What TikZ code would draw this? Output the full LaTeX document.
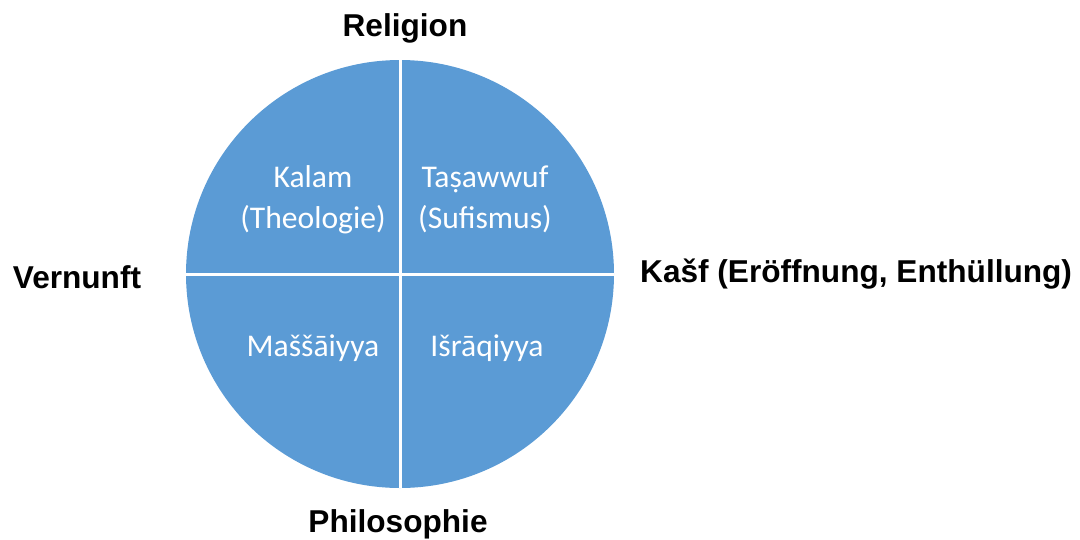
\documentclass[tikz,border=0pt]{standalone}
\usepackage{fontspec}
\setmainfont{Liberation Sans}
\newfontfamily\calfont{Carlito}
\definecolor{disc}{HTML}{5B9BD5}
\tikzset{
  axislabel/.style={font=\fontsize{31.6}{38}\selectfont\bfseries, text=black, inner sep=0pt, anchor=base},
  quadlabel/.style={font=\calfont\fontsize{31.6}{41}\selectfont, text=white, inner sep=0pt, align=center},
  divider/.style={draw=white, line width=3pt}
}
\begin{document}
\begin{tikzpicture}[x=1pt,y=-1pt]
\useasboundingbox (0,0) rectangle (1080,539);
\node[circle, fill=disc, minimum size=428pt, inner sep=0pt] (disc) at (400,274) {};
\draw[divider] (disc.north) -- (disc.south);
\draw[divider] (disc.west) -- (disc.east);
\node[quadlabel, anchor=base] (kalam) at (313,228) {Kalam\\(Theologie)};
\node[quadlabel, anchor=base] (tasawwuf) at (485,228) {Taṣawwuf\\(Sufismus)};
\node[quadlabel, anchor=base] (massa) at (313,356) {Maššāiyya};
\node[quadlabel, anchor=base] (ishraq) at (487,356) {Išrāqiyya};
\node[axislabel] (religion) at (405,36) {Religion};
\node[axislabel] (vernunft) at (77,288) {Vernunft};
\node[axislabel, anchor=base west] (kasf) at (640,282) {Kašf (Eröffnung, Enthüllung)};
\node[axislabel] (philo) at (398,532) {Philosophie};
\end{tikzpicture}
\end{document}
